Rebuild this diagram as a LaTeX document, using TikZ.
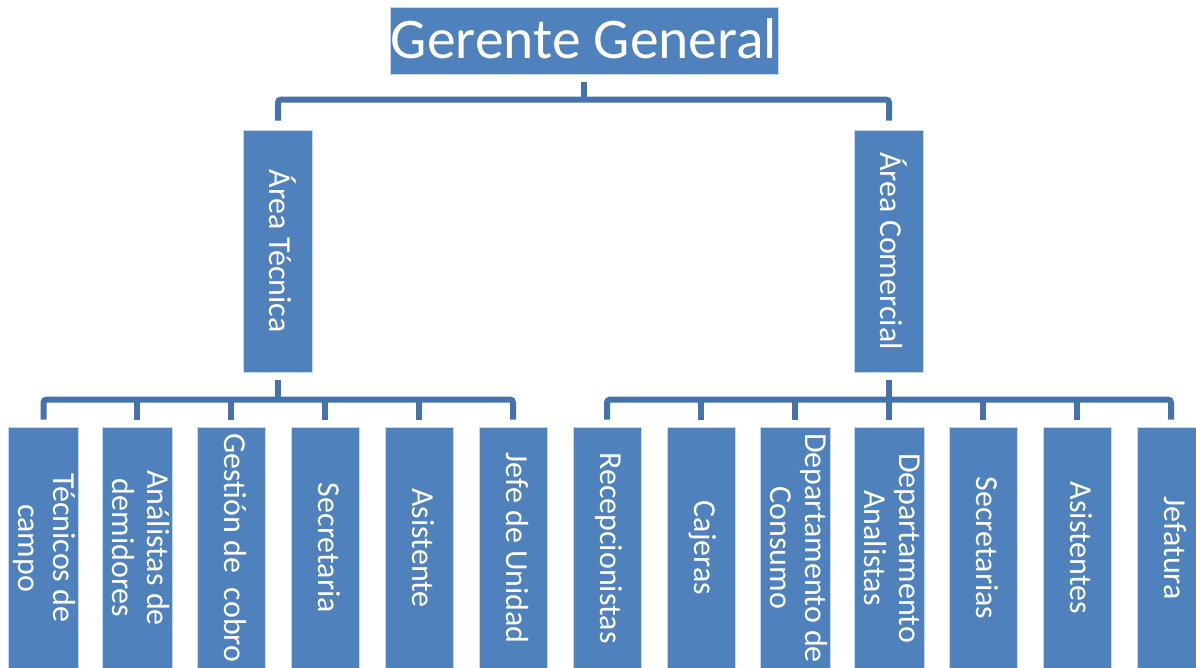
\documentclass[tikz,border=0pt]{standalone}
\usepackage{fontspec}
\usepackage{graphicx}
\setmainfont{Carlito}
\definecolor{boxfill}{HTML}{4F81BD}
\definecolor{boxedge}{HTML}{C9D7EC}
\definecolor{linkcol}{HTML}{4672AA}
% text set top-to-bottom inside a tall box
\newcommand\vtext[1]{\rotatebox{-90}{\begin{tabular}{@{}c@{}}#1\end{tabular}}}
\tikzset{
  unit/.style={fill=boxfill, draw=boxedge, line width=0.8pt, text=white,
    inner sep=0pt, font=\fontsize{32}{35}\selectfont},
  tallbox/.style={unit, minimum width=68pt, minimum height=242pt},
  areabox/.style={unit, minimum width=69pt, minimum height=242pt},
  link/.style={draw=linkcol, line width=6pt, rounded corners=3pt, line cap=butt}
}
\begin{document}
\begin{tikzpicture}[x=1pt, y=-1pt]
\fill[white] (0,0) rectangle (1196,667);
\useasboundingbox (0,0) rectangle (1196,667);

% top level
\node[unit, minimum width=388pt, minimum height=67pt,
      font=\fontsize{57.5}{60}\selectfont] (gg) at (584,40.5) {\raisebox{3pt}{Gerente General}};

% areas
\node[areabox] (tec) at (278,251) {\vtext{Área Técnica}};
\node[areabox] (com) at (889,251) {\vtext{Área Comercial}};

% technical staff
\node[tallbox] (t1) at (43.5,548) {\vtext{Técnicos de\\campo}};
\node[tallbox] (t2) at (137,548)  {\vtext{Análistas de\\demidores}};
\node[tallbox] (t3) at (231,548)  {\vtext{Gestión de\ \ cobro}};
\node[tallbox] (t4) at (325,548)  {\vtext{Secretaria}};
\node[tallbox] (t5) at (419,548)  {\vtext{Asistente}};
\node[tallbox] (t6) at (513,548)  {\vtext{Jefe de Unidad}};

% commercial staff
\node[tallbox] (c1) at (607,548)  {\vtext{Recepcionistas}};
\node[tallbox] (c2) at (701,548)  {\vtext{Cajeras}};
\node[tallbox] (c3) at (795,548)  {\vtext{Departamento de\\Consumo}};
\node[tallbox] (c4) at (889,548)  {\vtext{Departamento\\Analistas}};
\node[tallbox] (c5) at (983,548)  {\vtext{Secretarias}};
\node[tallbox] (c6) at (1077,548) {\vtext{Asistentes}};
\node[tallbox] (c7) at (1171,548) {\vtext{Jefatura}};

% bus heights
\coordinate (busA) at ([yshift=30pt]tec.north);
\coordinate (busB) at ([yshift=27pt]t1.north);

% general manager to areas
\draw[link] ([yshift=9pt]tec.north) |- ([yshift=30pt]com.north) -- ([yshift=9pt]com.north);
\draw[link] ([yshift=-8pt]gg.south) -- (gg.south |- busA);

% technical area to its staff
\draw[link] ([yshift=7pt]t1.north) |- ([yshift=27pt]t6.north) -- ([yshift=7pt]t6.north);
\draw[link] ([yshift=-8pt]tec.south) -- (tec.south |- busB);
\foreach \n in {t2,t3,t4,t5}
  \draw[link] (\n.north |- busB) -- ([yshift=7pt]\n.north);

% commercial area to its staff
\draw[link] ([yshift=7pt]c1.north) |- ([yshift=27pt]c7.north) -- ([yshift=7pt]c7.north);
\draw[link] ([yshift=-8pt]com.south) -- ([yshift=7pt]c4.north);
\foreach \n in {c2,c3,c5,c6}
  \draw[link] (\n.north |- busB) -- ([yshift=7pt]\n.north);
\end{tikzpicture}
\end{document}
